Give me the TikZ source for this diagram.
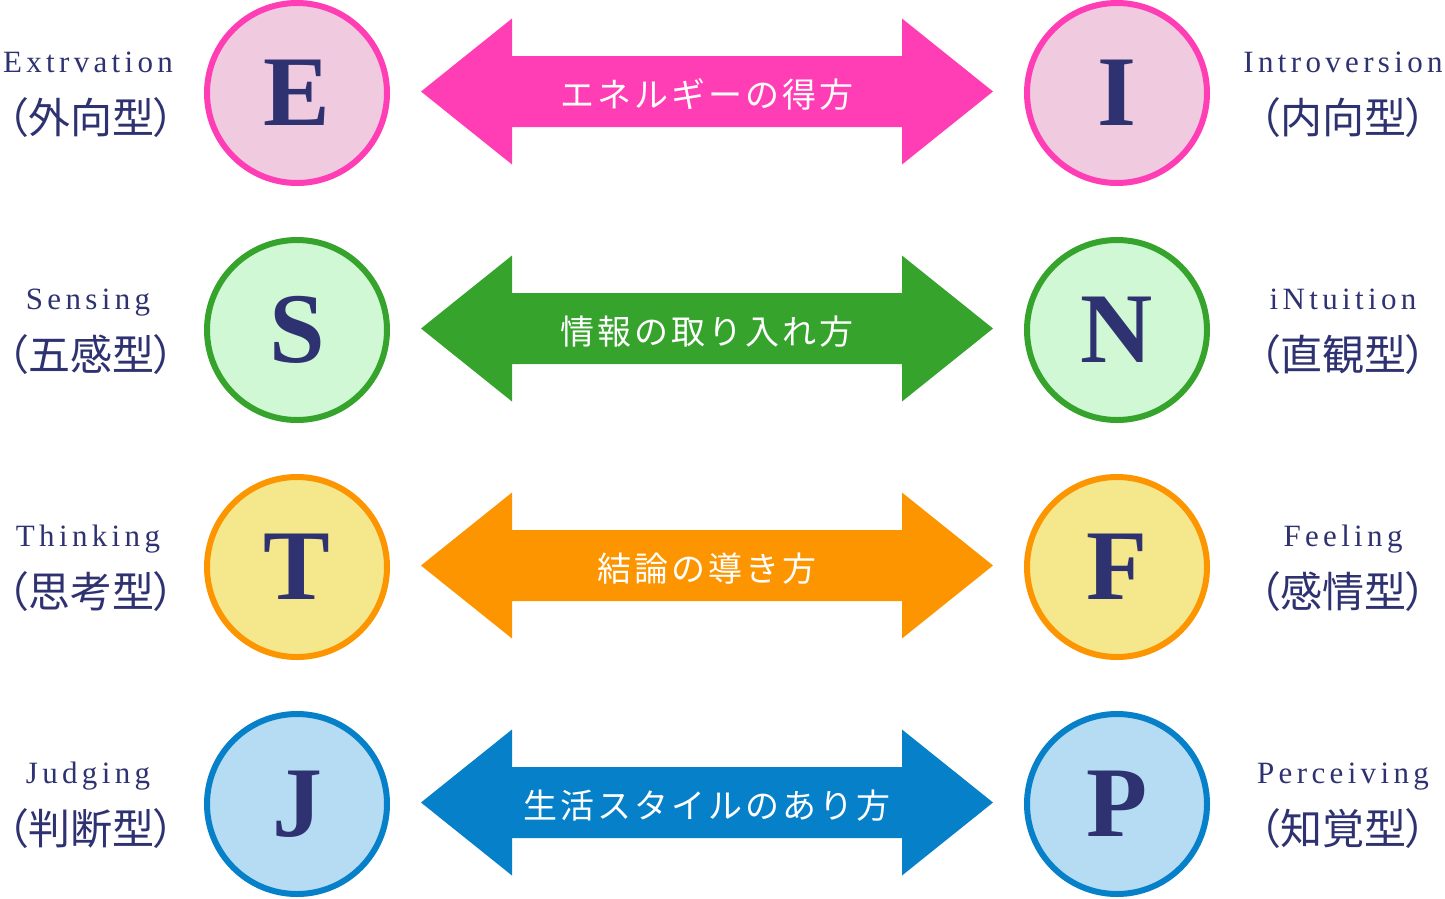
\documentclass[tikz,border=0pt]{standalone}
\usepackage{fontspec}
\setmainfont{Liberation Serif}
\newfontfamily\cjk{Noto Sans CJK JP}[RawFeature=+palt]
\newfontfamily\cjkarrow{Noto Sans CJK JP}[LetterSpace=9]
\newfontfamily\enlab{Liberation Serif}[LetterSpace=14]
\definecolor{navy}{HTML}{2F3270}
\definecolor{pinkS}{HTML}{FF3EB5}
\definecolor{pinkF}{HTML}{F0CADF}
\definecolor{greenS}{HTML}{36A42C}
\definecolor{greenF}{HTML}{D0F8D4}
\definecolor{orangeS}{HTML}{FD9500}
\definecolor{orangeF}{HTML}{F5E78C}
\definecolor{blueS}{HTML}{0680C8}
\definecolor{blueF}{HTML}{B6DCF4}
\usetikzlibrary{calc}
\begin{document}
\begin{tikzpicture}[x=1pt,y=-1pt]
\useasboundingbox (0,0) rectangle (1445,898);
\tikzset{
  letter/.style={circle, minimum size=180pt, line width=6pt, inner sep=0pt,
    text=navy, font=\fontsize{100}{100}\selectfont\bfseries},
  enlabel/.style={anchor=base, inner sep=0pt, text=navy,
    font=\enlab\fontsize{31}{31}\selectfont},
  jplabel/.style={anchor=base, inner sep=2.5pt, text=navy,
    font=\cjk\fontsize{42}{42}\selectfont},
  arrowtext/.style={anchor=base, inner sep=0pt, text=white,
    font=\cjkarrow\fontsize{34}{34}\selectfont},
}
\newcommand{\mbtirow}[9]{%
  \node[letter, draw=#2, fill=#3] (L#4) at (297,#1) {#4};
  \node[letter, draw=#2, fill=#3] (R#5) at (1117,#1) {#5};
  \fill[#2] ($(L#4)+(124,-1.5)$) -- ++(91,-73) -- ++(0,37.5) -- ++(390,0)
    -- ++(0,-37.5) -- ++(91,73) -- ++(-91,73) -- ++(0,-37.5) -- ++(-390,0)
    -- ++(0,37.5) -- cycle;
  \node[enlabel] (E#4) at (88,#1-21) {#6};
  \node[jplabel] (J#4) at (91,#1+40) {#7};
  \node[enlabel] (E#5) at (1343,#1-21) {#8};
  \node[jplabel] (J#5) at (1343,#1+40) {#9};
}
\mbtirow{93}{pinkS}{pinkF}{E}{I}{Extrvation}{（外向型）}{Introversion}{（内向型）}
\node[arrowtext] (A1) at ($(LE)!0.5!(RI)+(0,14)$) {エネルギーの得方};
\mbtirow{330}{greenS}{greenF}{S}{N}{Sensing}{（五感型）}{iNtuition}{（直観型）}
\node[arrowtext] (A2) at ($(LS)!0.5!(RN)+(0,14)$) {情報の取り入れ方};
\mbtirow{567}{orangeS}{orangeF}{T}{F}{Thinking}{（思考型）}{Feeling}{（感情型）}
\node[arrowtext] (A3) at ($(LT)!0.5!(RF)+(0,14)$) {結論の導き方};
\mbtirow{804}{blueS}{blueF}{J}{P}{Judging}{（判断型）}{Perceiving}{（知覚型）}
\node[arrowtext] (A4) at ($(LJ)!0.5!(RP)+(0,14)$) {生活スタイルのあり方};
\end{tikzpicture}
\end{document}
